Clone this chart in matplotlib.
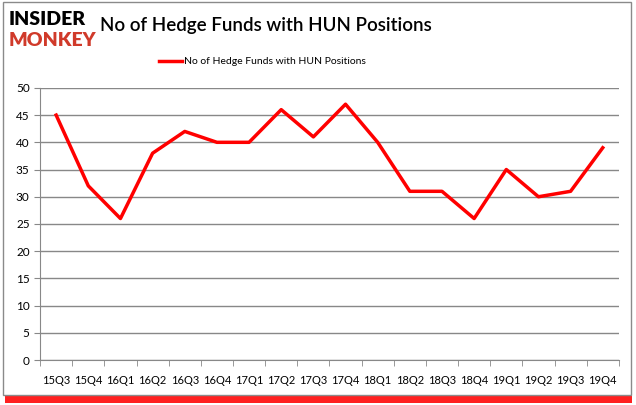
import matplotlib
matplotlib.use("Agg")
import matplotlib.pyplot as plt
from matplotlib.patches import Rectangle

quarters = ["15Q3", "15Q4", "16Q1", "16Q2", "16Q3", "16Q4", "17Q1", "17Q2", "17Q3",
            "17Q4", "18Q1", "18Q2", "18Q3", "18Q4", "19Q1", "19Q2", "19Q3", "19Q4"]
funds = [45, 32, 26, 38, 42, 40, 40, 46, 41, 47, 40, 31, 31, 26, 35, 30, 31, 39]
series_name = "No of Hedge Funds with HUN Positions"

plt.rcParams['font.family'] = ['Lato', 'DejaVu Sans']

fig = plt.figure(figsize=(6.36, 4.05), dpi=100)

# red shadow and grey frame around the chart
fig.patches.append(Rectangle((0.008, 0.005), 0.985, 0.025, transform=fig.transFigure,
                             facecolor='#ff2020', edgecolor='none', zorder=-2))
fig.patches.append(Rectangle((0.004, 0.025), 0.988, 0.97, transform=fig.transFigure,
                             facecolor='white', edgecolor='#8a8a8a', lw=1, zorder=-1))

ax = fig.add_axes([0.063, 0.111, 0.91, 0.672])
x = list(range(len(quarters)))
ax.plot(x, funds, color='#ff0000', lw=2.5, label=series_name)

ax.set_xlim(-0.5, len(quarters) - 0.5)
ax.set_ylim(0, 50)
ax.set_yticks(range(0, 51, 5))
ax.set_xticks(x)
ax.set_xticklabels(quarters, fontsize=8)
ax.set_xticks([i - 0.5 for i in range(len(quarters) + 1)], minor=True)
ax.tick_params(axis='x', which='major', length=0, pad=11)
ax.tick_params(axis='x', which='minor', length=4, color='#888888')
ax.tick_params(axis='y', length=4, color='#888888', labelsize=8.5)
ax.grid(axis='y', color='#888888', lw=1)
ax.set_axisbelow(True)
for s in ['top', 'right']:
    ax.spines[s].set_visible(False)
for s in ['left', 'bottom']:
    ax.spines[s].set_color('#888888')
ax.patch.set_alpha(0)

fig.text(0.158, 0.938, series_name, fontsize=13.5, fontweight='semibold', va='center')
fig.text(0.013, 0.953, "INSIDER", fontsize=14, fontweight='heavy', color='black', va='center')
fig.text(0.013, 0.9, "MONKEY", fontsize=14, fontweight='heavy', color='#d03a2a', va='center')

fig.legend(loc='center', bbox_to_anchor=(0.413, 0.848), frameon=False, fontsize=7.5,
           handlelength=2.2, handletextpad=0.2)

fig.savefig("out.png", dpi=100)
